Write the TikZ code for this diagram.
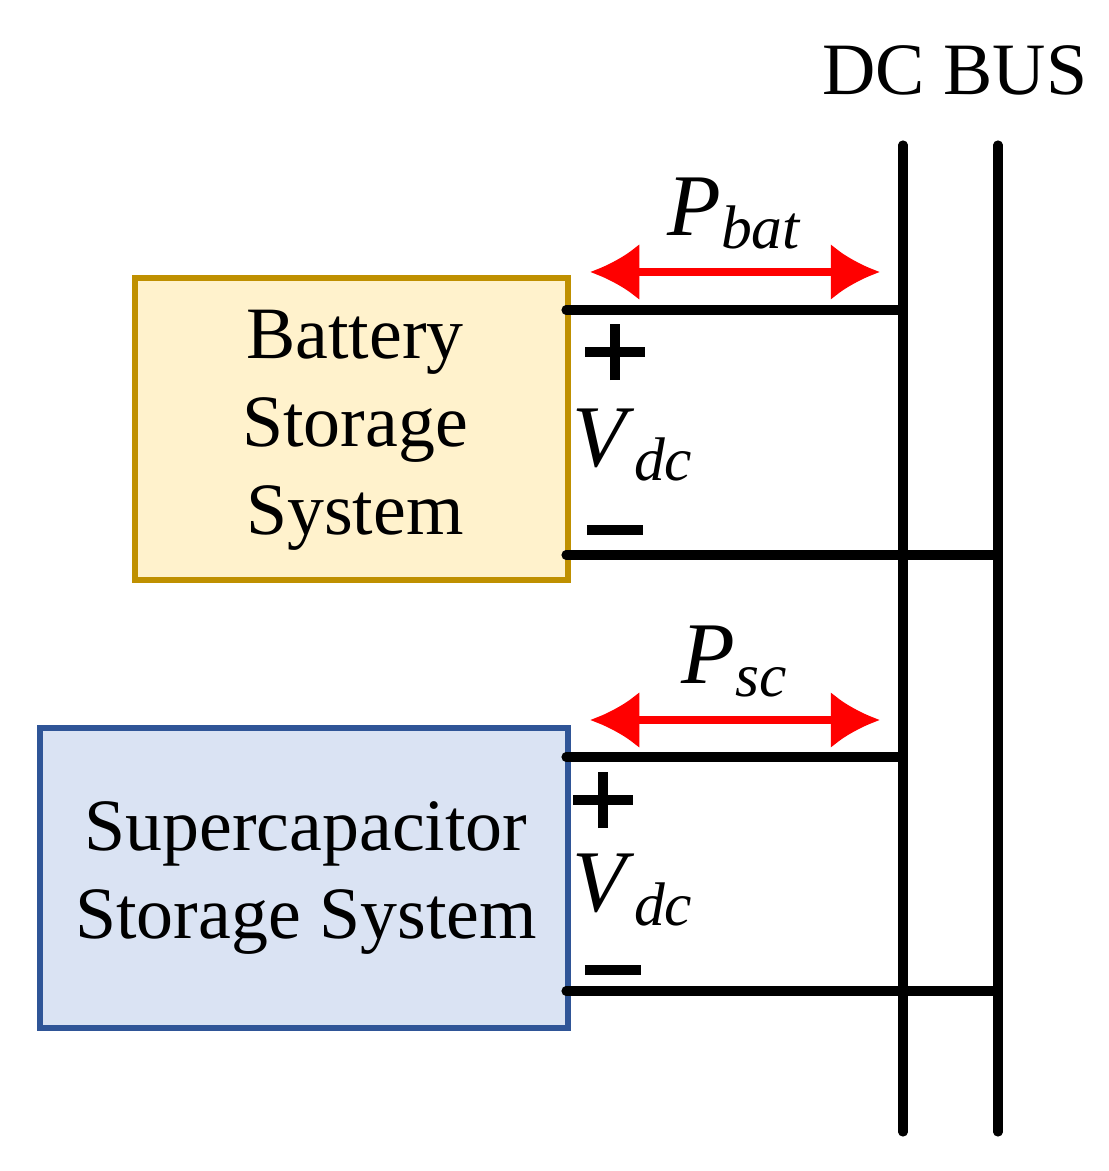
\documentclass[tikz,border=0pt]{standalone}
\usepackage{fontspec}
\setmainfont{Liberation Serif}
\usetikzlibrary{arrows.meta}
\definecolor{batfill}{HTML}{FFF2CC}
\definecolor{batline}{HTML}{BF9000}
\definecolor{scfill}{HTML}{DAE3F3}
\definecolor{scline}{HTML}{2F5597}
\newcommand{\plussym}{\makebox[17pt]{\rule[6.5pt]{17pt}{3pt}\hspace{-10pt}\rule{3pt}{16pt}\hspace{7pt}}}
\newcommand{\minussym}{\rule{16pt}{3pt}}
\newcommand{\quant}[2]{\textit{#1}\textsubscript{\textit{#2}}}
\tikzset{
  wire/.style={line width=2.6pt, line cap=round},
  flow/.style={line width=2.2pt, red, {Latex[length=14pt,width=16pt]}-{Latex[length=14pt,width=16pt]}},
  lbl/.style={font=\fontsize{21}{25}\selectfont, align=center},
  qty/.style={font=\fontsize{25}{30}\selectfont},
  sym/.style={inner sep=0pt},
}
\begin{document}
\begin{tikzpicture}[x=0.01cm,y=-0.01cm]
		\useasboundingbox (0,0) rectangle (1108,1171);

		% storage boxes
		\draw[batline, fill=batfill, line width=1.5pt] (135,278) rectangle (568,580);
		\node[lbl] (bat) at (355,430) {Battery\\Storage\\System};
		\draw[scline, fill=scfill, line width=1.5pt] (40,728) rectangle (568,1028);
		\node[lbl] (sc) at (306,878) {Supercapacitor\\Storage System};

		% dc bus
		\node[lbl] (bus) at (955,70) {DC BUS};
		\coordinate (pt) at (903,145);
		\coordinate (pb) at (903,1132);
		\coordinate (nt) at (998,145);
		\coordinate (nb) at (998,1132);
		\draw[wire] (pt) -- (pb);
		\draw[wire] (nt) -- (nb);

		% battery terminals
		\coordinate (batp) at (566,310);
		\coordinate (batn) at (566,555);
		\draw[wire] (batp) -- (batp -| pt);
		\draw[wire] (batn) -- (batn -| nt);
		\node[sym] (batplus) at (615,352) {\plussym};
		\node[qty] (batv) at (633,445) {\quant{V}{dc}};
		\node[sym] (batminus) at (615,530) {\minussym};

		% supercapacitor terminals
		\coordinate (scp) at (566,757);
		\coordinate (scn) at (566,991);
		\draw[wire] (scp) -- (scp -| pt);
		\draw[wire] (scn) -- (scn -| nt);
		\node[sym] (scplus) at (603,800) {\plussym};
		\node[qty] (scv) at (633,890) {\quant{V}{dc}};
		\node[sym] (scminus) at (613,970) {\minussym};

		% power flow arrows
		\coordinate (fa1) at (590,272);
		\coordinate (fb1) at (880,272);
		\draw[flow] (fa1) -- (fb1) node[midway, above=2pt, black, qty] (pbat) {\quant{P}{bat}};
		\coordinate (fa2) at (590,720);
		\coordinate (fb2) at (880,720);
		\draw[flow] (fa2) -- (fb2) node[midway, above=2pt, black, qty] (psc) {\quant{P}{sc}};
\end{tikzpicture}
\end{document}
